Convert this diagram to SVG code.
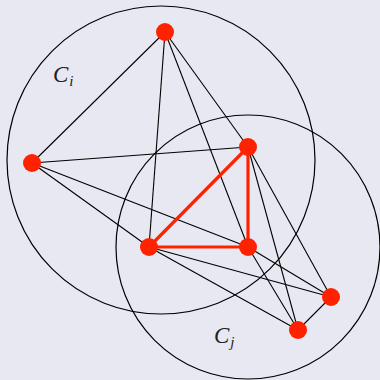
<svg xmlns="http://www.w3.org/2000/svg" width="380" height="380" viewBox="0 0 380 380">
<style>
.circ{fill:none;stroke:#000;stroke-width:1.2}
.e{stroke:#000;stroke-width:1.1;fill:none}
.r{stroke:#ff2200;stroke-width:3.2;fill:none}
.n{fill:#ff2200}
.lbl{font-family:"Liberation Serif",serif;font-style:italic;font-size:23px;fill:#222}
.sub{font-family:"Liberation Serif",serif;font-style:italic;font-size:15px;fill:#222}
</style>
<rect width="380" height="380" fill="#e8e8f2"/>
<g id="circles">
<circle class="circ" cx="161" cy="160" r="154"/>
<circle class="circ" cx="248" cy="247" r="132"/>
</g>
<g id="connectors">
<line class="e" x1="165" y1="32" x2="32" y2="163"/>
<line class="e" x1="165" y1="32" x2="149" y2="247"/>
<line class="e" x1="165" y1="32" x2="248" y2="147"/>
<line class="e" x1="165" y1="32" x2="248" y2="247"/>
<line class="e" x1="32" y1="163" x2="248" y2="147"/>
<line class="e" x1="32" y1="163" x2="149" y2="247"/>
<line class="e" x1="32" y1="163" x2="248" y2="247"/>
<line class="e" x1="248" y1="147" x2="331" y2="297"/>
<line class="e" x1="248" y1="147" x2="298" y2="330"/>
<line class="e" x1="149" y1="247" x2="331" y2="297"/>
<line class="e" x1="149" y1="247" x2="298" y2="330"/>
<line class="e" x1="248" y1="247" x2="331" y2="297"/>
<line class="e" x1="248" y1="247" x2="298" y2="330"/>
<line class="e" x1="331" y1="297" x2="298" y2="330"/>
<line class="r" x1="248" y1="147" x2="149" y2="247"/>
<line class="r" x1="248" y1="147" x2="248" y2="247"/>
<line class="r" x1="149" y1="247" x2="248" y2="247"/>
</g>
<g id="nA"><circle class="n" cx="165" cy="32" r="9"/></g>
<g id="nB"><circle class="n" cx="32" cy="163" r="9"/></g>
<g id="nC"><circle class="n" cx="248" cy="147" r="9"/></g>
<g id="nD"><circle class="n" cx="149" cy="247" r="9"/></g>
<g id="nE"><circle class="n" cx="248" cy="247" r="9"/></g>
<g id="nF"><circle class="n" cx="331" cy="297" r="9"/></g>
<g id="nG"><circle class="n" cx="298" cy="330" r="9"/></g>
<g id="labels">
<text class="lbl" x="53" y="82">C<tspan class="sub" dx="1" dy="4">i</tspan></text>
<text class="lbl" x="214" y="343">C<tspan class="sub" dx="1" dy="4">j</tspan></text>
</g>
</svg>
